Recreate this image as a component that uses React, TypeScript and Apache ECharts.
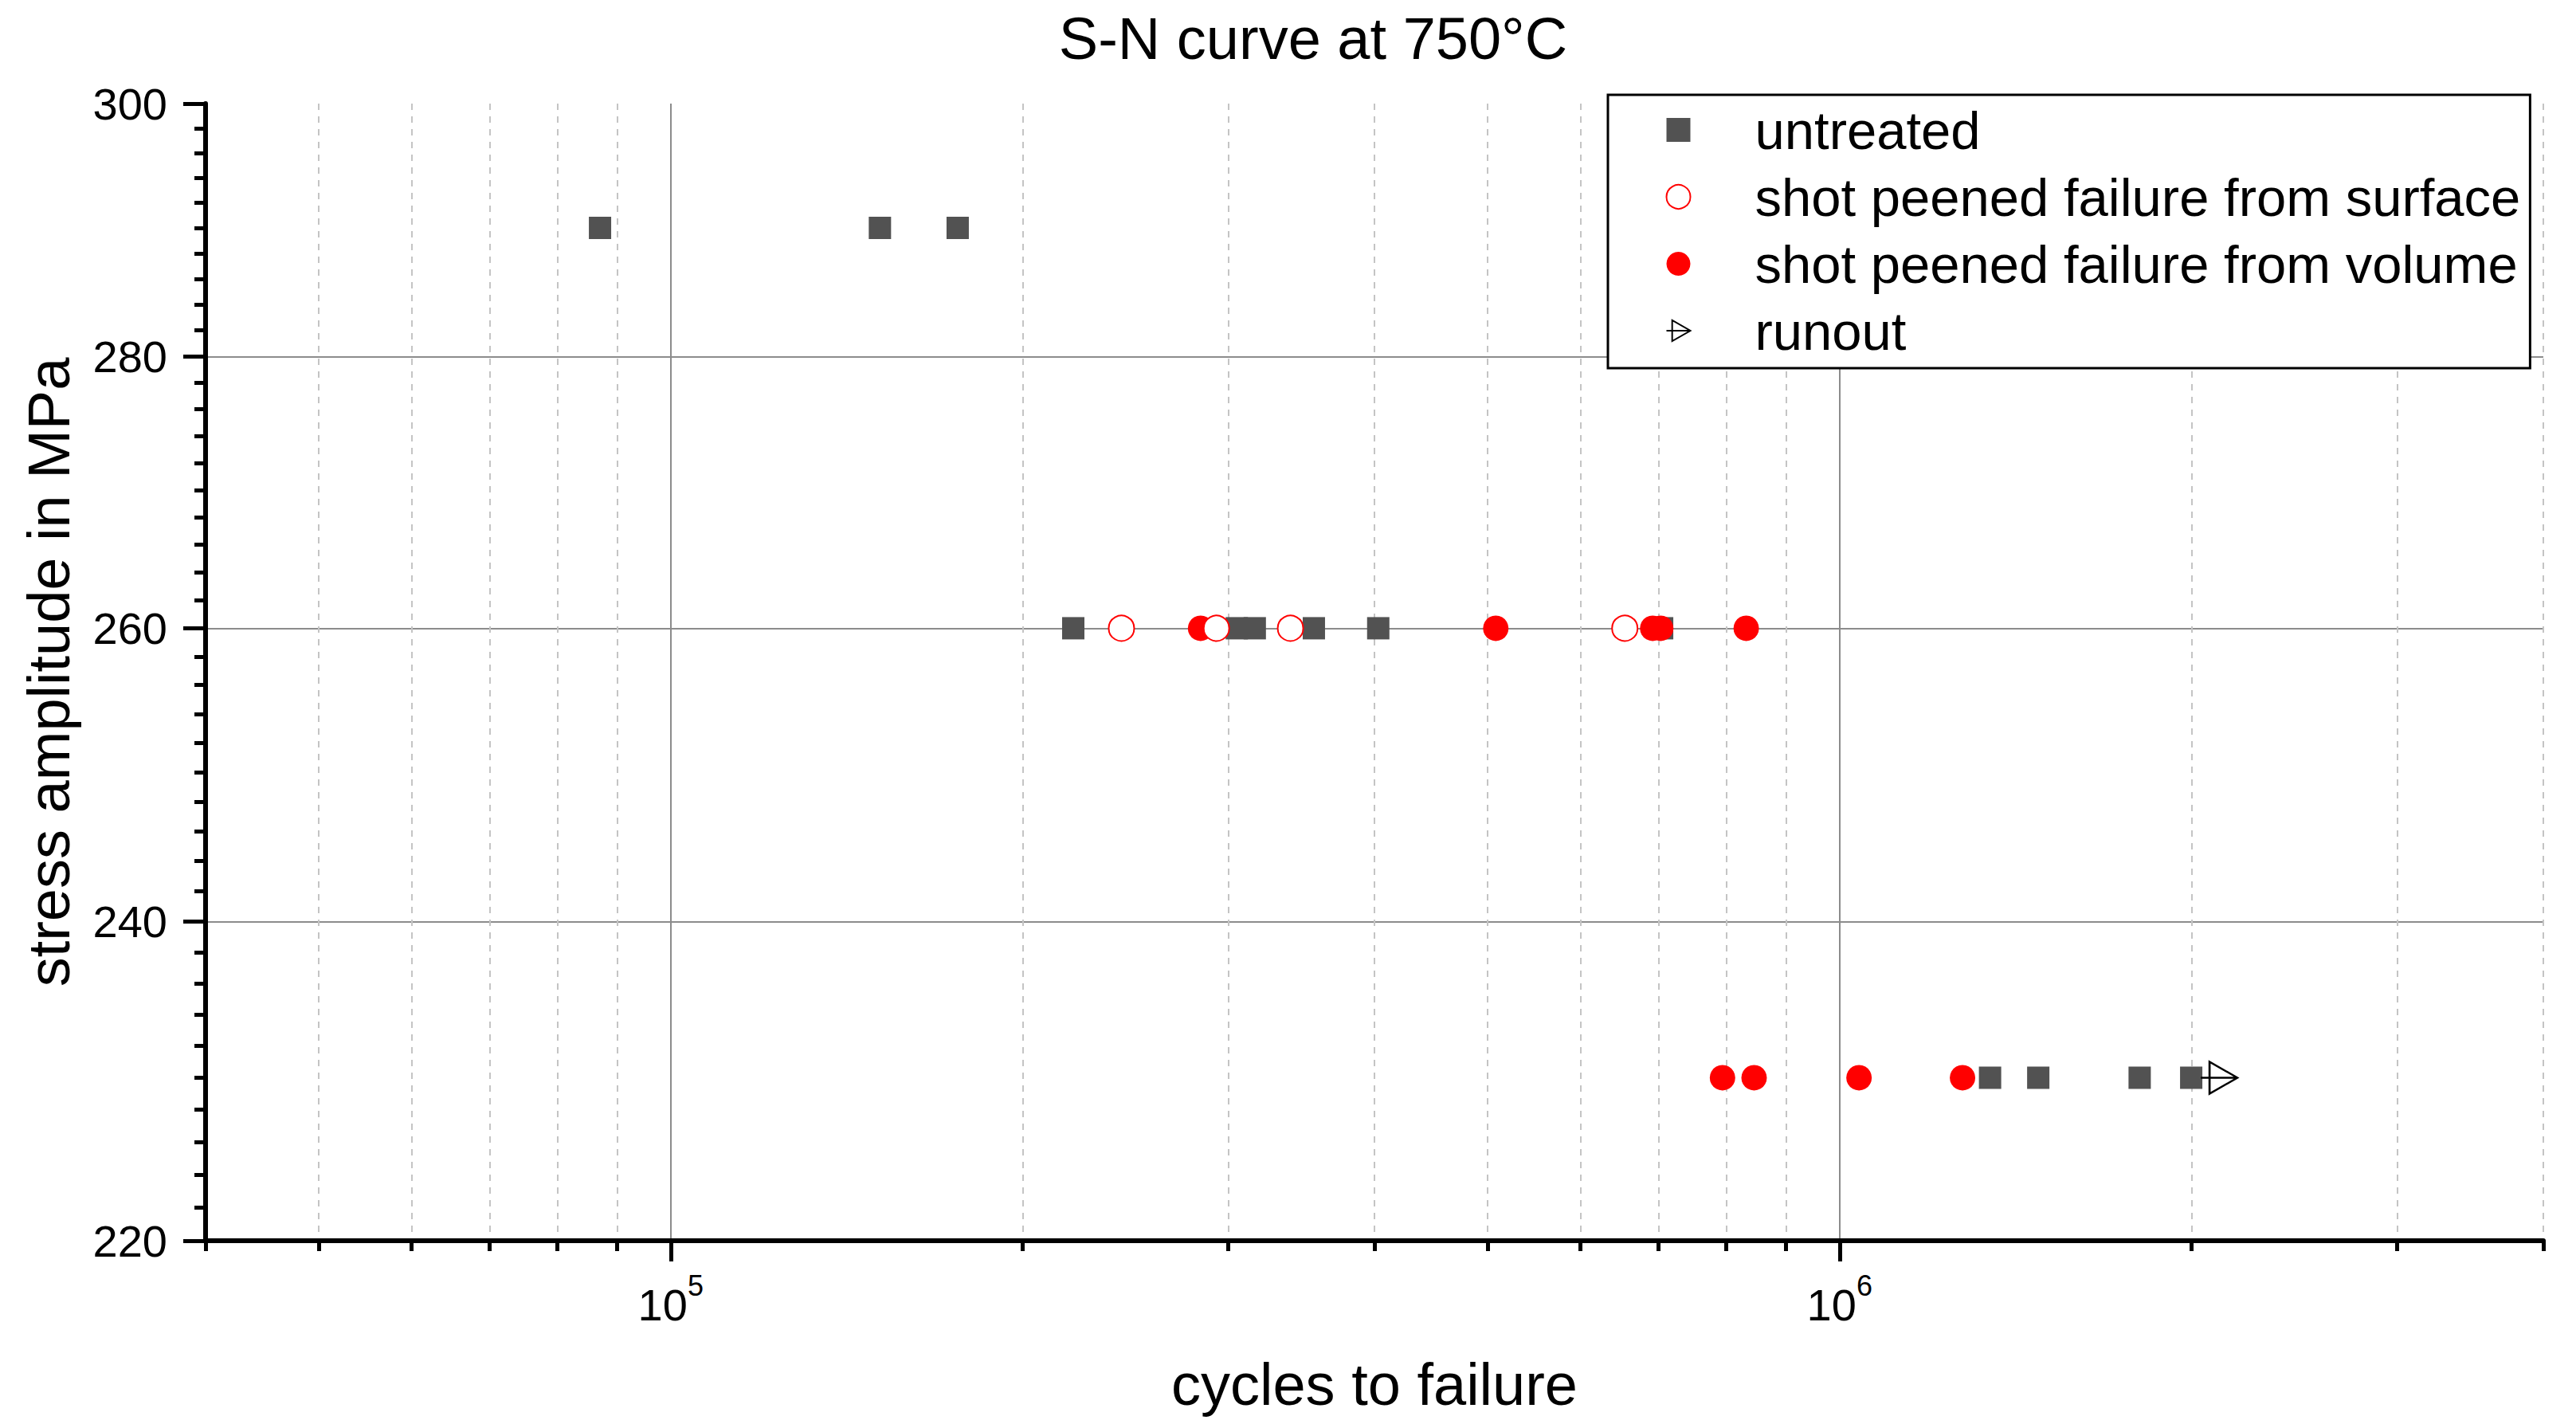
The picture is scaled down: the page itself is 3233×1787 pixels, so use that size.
import React, { useEffect, useRef } from "react";
import * as echarts from "echarts";

// cycles to failure / stress amplitude (MPa)
const untreatedN = [87000, 151000, 176000, 221000, 305000, 316000, 355000, 403000, 705000, 1345000, 1479000, 1806000, 1999000];
const untreatedS = [290, 290, 290, 260, 260, 260, 260, 260, 260, 230, 230, 230, 230];
const surfaceN = [243000, 293000, 339000, 655000];
const surfaceS = [260, 260, 260, 260];
const volumeN = [284000, 508000, 692000, 703000, 832000, 794000, 845000, 1039000, 1274000];
const volumeS = [260, 260, 260, 260, 260, 230, 230, 230, 230];
const runoutN = [2112000];
const runoutS = [230];

const xMin = 40000;
const xMax = 4000000;
const xMajorTicks = [1e5, 1e6];
const xMinorTicks = [4e4, 5e4, 6e4, 7e4, 8e4, 9e4, 2e5, 3e5, 4e5, 5e5, 6e5, 7e5, 8e5, 9e5, 2e6, 3e6, 4e6];
const yMin = 220;
const yMax = 300;
const yMajorTicks = [220, 240, 260, 280, 300];
const yMinorTicks = [
  222, 224, 226, 228, 230, 232, 234, 236, 238,
  242, 244, 246, 248, 250, 252, 254, 256, 258,
  262, 264, 266, 268, 270, 272, 274, 276, 278,
  282, 284, 286, 288, 290, 292, 294, 296, 298,
];

const FONT = "'Liberation Sans', Arial, sans-serif";
const lg = (v: number) => Math.log10(v);
const pts = (ns: number[], ss: number[]) => ns.map((n, i) => [lg(n), lg(ss[i])]);

const runoutPath = "path://M0,20 L46,20 M11,0 L46,20 L11,40 Z";

const App = () => {
  const chartRef = useRef<HTMLDivElement>(null);

  useEffect(() => {
    if (!chartRef.current) return;
    document.body.style.margin = "0";
    const chart = echarts.init(chartRef.current, undefined, { renderer: "svg" });

    const xBase = { type: "value", min: lg(xMin), max: lg(xMax), position: "bottom" } as const;
    const yBase = { type: "value", min: lg(yMin), max: lg(yMax), position: "left" } as const;

    chart.setOption({
      animation: false,
      backgroundColor: "#fff",
      title: {
        text: "S-N curve at 750°C",
        left: 1643,
        textAlign: "center",
        top: 6,
        textStyle: { fontFamily: FONT, fontSize: 74, fontWeight: "normal", color: "#000" },
      },
      legend: {
        orient: "vertical",
        left: 2018,
        top: 119,
        backgroundColor: "#fff",
        borderColor: "#000",
        borderWidth: 3,
        padding: [2, 12, 5, 71],
        itemWidth: 30,
        itemHeight: 30,
        itemGap: 0,
        textStyle: { fontFamily: FONT, fontSize: 67, color: "#000", lineHeight: 84, padding: [0, 0, 0, 76] },
        data: ["untreated", "shot peened failure from surface", "shot peened failure from volume", "runout"],
      },
      grid: { left: 258, right: 41, top: 130, bottom: 230, containLabel: false },
      xAxis: [
        {
          ...xBase,
          name: "cycles to failure",
          nameLocation: "middle",
          nameGap: 143,
          nameTextStyle: { fontFamily: FONT, fontSize: 74, color: "#000" },
          axisLine: { show: true, onZero: false, lineStyle: { color: "#000", width: 6 } },
          axisTick: { show: true, inside: false, length: 26, customValues: xMajorTicks.map(lg), lineStyle: { color: "#000", width: 5 } },
          axisLabel: {
            customValues: xMajorTicks.map(lg),
            margin: 38,
            formatter: (v: number) => `{b|10}{s|${Math.round(v)}}`,
            rich: {
              b: { fontFamily: FONT, fontSize: 56, color: "#000", lineHeight: 70, verticalAlign: "bottom" },
              s: { fontFamily: FONT, fontSize: 36, color: "#000", lineHeight: 36, verticalAlign: "top" },
            },
          },
          splitLine: { show: true, lineStyle: { color: "#8c8c8c", width: 2 } },
        },
        {
          ...xBase,
          axisLine: { show: false, onZero: false },
          axisTick: { show: true, inside: false, length: 13, customValues: xMinorTicks.map(lg), lineStyle: { color: "#000", width: 5 } },
          axisLabel: { show: false },
          splitLine: { show: true, lineStyle: { color: "#c4c4c4", width: 2, type: [8, 8] } },
        },
      ],
      yAxis: [
        {
          ...yBase,
          name: "stress amplitude in MPa",
          nameLocation: "middle",
          nameGap: 160,
          nameTextStyle: { fontFamily: FONT, fontSize: 74, color: "#000" },
          axisLine: { show: true, onZero: false, lineStyle: { color: "#000", width: 6 } },
          axisTick: { show: true, inside: false, length: 28, customValues: yMajorTicks.map(lg), lineStyle: { color: "#000", width: 5 } },
          axisLabel: {
            customValues: yMajorTicks.map(lg),
            margin: 48,
            fontFamily: FONT,
            fontSize: 56,
            color: "#000",
            formatter: (v: number) => String(Math.round(Math.pow(10, v))),
          },
          splitLine: { show: true, showMaxLine: false, lineStyle: { color: "#8c8c8c", width: 2 } },
        },
        {
          ...yBase,
          axisLine: { show: false, onZero: false },
          axisTick: { show: true, inside: false, length: 14, customValues: yMinorTicks.map(lg), lineStyle: { color: "#000", width: 5 } },
          axisLabel: { show: false },
          splitLine: { show: false },
        },
      ],
      series: [
        {
          name: "untreated",
          type: "scatter",
          symbol: "rect",
          symbolSize: 28,
          itemStyle: { color: "#525252", opacity: 1 },
          data: pts(untreatedN, untreatedS),
          z: 2,
        },
        {
          name: "shot peened failure from volume",
          type: "scatter",
          symbol: "circle",
          symbolSize: 32,
          itemStyle: { color: "#ff0000", opacity: 1 },
          data: pts(volumeN, volumeS),
          z: 3,
        },
        {
          name: "shot peened failure from surface",
          type: "scatter",
          symbol: "circle",
          symbolSize: 32,
          itemStyle: { color: "#ffffff", borderColor: "#ff0000", borderWidth: 2, opacity: 1 },
          data: pts(surfaceN, surfaceS),
          z: 4,
        },
        {
          name: "runout",
          type: "scatter",
          symbol: runoutPath,
          symbolSize: [46, 40],
          itemStyle: { color: "none", borderColor: "#000", borderWidth: 2.5, opacity: 1 },
          data: pts(runoutN, runoutS),
          z: 5,
        },
      ],
    });

    return () => {
      chart.dispose();
    };
  }, []);

  return <div ref={chartRef} style={{ width: "3233px", height: "1787px" }} />;
};

export default App;
